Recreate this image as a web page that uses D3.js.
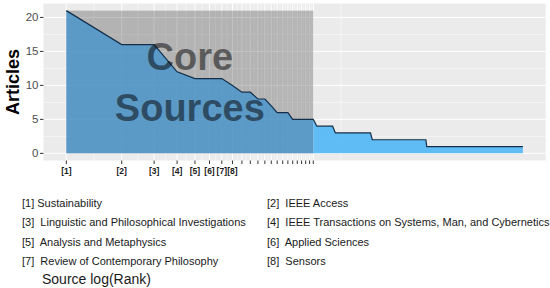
<!DOCTYPE html>
<html>
<head>
<meta charset="utf-8">
<script src="https://cdn.jsdelivr.net/npm/d3@7"></script>
<style>
  body { margin: 0; background: #fff; }
  svg { display: block; font-family: "Liberation Sans", Arial, sans-serif; }
</style>
</head>
<body>
<div id="chart"></div>
<script>
// articles per source, ranks 1..22 (core zone)
const coreFreq = [21, 16, 16, 12, 11, 11, 11, 10, 9, 9, 8, 8, 7, 6, 6, 6, 5, 5, 5, 5, 5, 5];
// remaining sources, as runs of equal frequency
const tailFreq = [4, 3, 2, 1];
const tailCount = [6, 17, 45, 213];
const tickLabels = ["[1]", "[2]", "[3]", "[4]", "[5]", "[6]", "[7]", "[8]"];
const sourceNames = [
  "[1] Sustainability", "[2]  IEEE Access",
  "[3]  Linguistic and Philosophical Investigations", "[4]  IEEE Transactions on Systems, Man, and Cybernetics",
  "[5]  Analysis and Metaphysics", "[6]  Applied Sciences",
  "[7]  Review of Contemporary Philosophy", "[8]  Sensors"
];
const yTicks = [0, 5, 10, 15, 20];

// build rank table
let data = coreFreq.map((f, i) => ({ rank: i + 1, freq: f }));
tailFreq.forEach((f, j) => {
  for (let k = 0; k < tailCount[j]; k++) data.push({ rank: data.length + 1, freq: f });
});
const nCore = coreFreq.length;
const nAll = data.length;
const maxFreq = d3.max(data, d => d.freq);

const W = 550, H = 288;
const panel = { left: 43.5, right: 545.7, top: 3.5, bottom: 160.5 };

const lx = Math.log(nAll);
const x = d3.scaleLinear()
  .domain([-0.05 * lx, lx * 1.05])
  .range([panel.left, panel.right]);
const y = d3.scaleLinear()
  .domain([-0.05 * maxFreq, maxFreq * 1.05])
  .range([panel.bottom, panel.top]);

const svg = d3.select('#chart').append('svg')
  .attr('width', W).attr('height', H);

// panel background
svg.append('rect')
  .attr('x', panel.left).attr('y', panel.top)
  .attr('width', panel.right - panel.left).attr('height', panel.bottom - panel.top)
  .attr('fill', '#ebebeb');

// grid
let breaks = d3.range(nCore).map(i => Math.log(i + 1));
let bd = breaks[1] - breaks[0];
let ext = [breaks[0] - bd].concat(breaks, [breaks[nCore - 1] + bd]);
let minorX = [];
for (let i = 0; i < ext.length - 1; i++) minorX.push((ext[i] + ext[i + 1]) / 2);
minorX = minorX.filter(v => v > x.domain()[0] && v < x.domain()[1]);
let minorY = [2.5, 7.5, 12.5, 17.5];

let grid = svg.append('g');
grid.selectAll('.minx').data(minorX).enter().append('line')
  .attr('x1', d => x(d)).attr('x2', d => x(d))
  .attr('y1', panel.top).attr('y2', panel.bottom)
  .attr('stroke', '#fff').attr('stroke-width', 0.5);
grid.selectAll('.miny').data(minorY).enter().append('line')
  .attr('y1', d => y(d)).attr('y2', d => y(d))
  .attr('x1', panel.left).attr('x2', panel.right)
  .attr('stroke', '#fff').attr('stroke-width', 0.5);
grid.selectAll('.majx').data(breaks).enter().append('line')
  .attr('x1', d => x(d)).attr('x2', d => x(d))
  .attr('y1', panel.top).attr('y2', panel.bottom)
  .attr('stroke', '#fff').attr('stroke-width', 1);
grid.selectAll('.majy').data(yTicks).enter().append('line')
  .attr('y1', d => y(d)).attr('y2', d => y(d))
  .attr('x1', panel.left).attr('x2', panel.right)
  .attr('stroke', '#fff').attr('stroke-width', 1);

// core rectangle
let coreEdge = x(Math.log(nCore));
svg.append('rect')
  .attr('x', x(0)).attr('y', y(maxFreq))
  .attr('width', coreEdge - x(0)).attr('height', y(0) - y(maxFreq))
  .attr('fill', '#000').attr('fill-opacity', 0.24);

// clips for the two area tones
let defs = svg.append('defs');
defs.append('clipPath').attr('id', 'clipCore').append('rect')
  .attr('x', 0).attr('y', 0).attr('width', coreEdge).attr('height', H);
defs.append('clipPath').attr('id', 'clipTail').append('rect')
  .attr('x', coreEdge).attr('y', 0).attr('width', W).attr('height', H);

let area = d3.area()
  .x(d => x(Math.log(d.rank)))
  .y0(y(0))
  .y1(d => y(d.freq));
svg.append('path').datum(data)
  .attr('d', area)
  .attr('clip-path', 'url(#clipCore)')
  .attr('fill', '#4592cb').attr('fill-opacity', 0.8);
svg.append('path').datum(data)
  .attr('d', area)
  .attr('clip-path', 'url(#clipTail)')
  .attr('fill', '#3db0f6').attr('fill-opacity', 0.8);

let line = d3.line()
  .x(d => x(Math.log(d.rank)))
  .y(d => y(d.freq));
svg.append('path').datum(data)
  .attr('d', line)
  .attr('fill', 'none')
  .attr('stroke', '#142f4a')
  .attr('stroke-width', 1.2);

// Core Sources text
let xc = x(Math.log(nCore) / 2), yc = y(maxFreq / 2);
let coreText = svg.append('g')
  .attr('font-weight', 'bold').attr('font-size', 38)
  .attr('text-anchor', 'middle').attr('fill', '#000').attr('fill-opacity', 0.5);
coreText.append('text').attr('x', xc).attr('y', yc - 12).text('Core');
coreText.append('text').attr('x', xc).attr('y', yc + 39).text('Sources');

// y axis
let yAxis = svg.append('g');
yAxis.selectAll('line').data(yTicks).enter().append('line')
  .attr('x1', panel.left - 3.5).attr('x2', panel.left)
  .attr('y1', d => y(d)).attr('y2', d => y(d))
  .attr('stroke', '#333').attr('stroke-width', 1);
yAxis.selectAll('text').data(yTicks).enter().append('text')
  .attr('x', panel.left - 5).attr('y', d => y(d) + 4)
  .attr('text-anchor', 'end').attr('font-size', 11.5).attr('fill', '#4d4d4d')
  .text(d => d);

svg.append('text')
  .attr('transform', `translate(${19},${(panel.top + panel.bottom) / 2}) rotate(-90)`)
  .attr('text-anchor', 'middle').attr('font-weight', 'bold').attr('font-size', 18)
  .text('Articles');

// x axis ticks
let xAxis = svg.append('g');
xAxis.selectAll('line').data(breaks).enter().append('line')
  .attr('x1', d => x(d)).attr('x2', d => x(d))
  .attr('y1', panel.bottom).attr('y2', panel.bottom + 3.5)
  .attr('stroke', '#333').attr('stroke-width', 1);
xAxis.selectAll('text').data(tickLabels).enter().append('text')
  .attr('x', (d, i) => x(breaks[i])).attr('y', panel.bottom + 13)
  .attr('text-anchor', 'middle').attr('font-size', 8.5).attr('font-weight', 'bold')
  .attr('fill', '#1a1a1a')
  .text(d => d);

// source legend
let leg = svg.append('g').attr('font-size', 11).attr('fill', '#1a1a1a');
leg.selectAll('text').data(sourceNames).enter().append('text')
  .attr('x', (d, i) => i % 2 === 0 ? 22 : 267)
  .attr('y', (d, i) => 207 + Math.floor(i / 2) * 19.3)
  .style('white-space', 'pre')
  .text(d => d);

svg.append('text')
  .attr('x', 42).attr('y', 284)
  .attr('font-size', 14).attr('fill', '#1a1a1a')
  .text('Source log(Rank)');
</script>
</body>
</html>
